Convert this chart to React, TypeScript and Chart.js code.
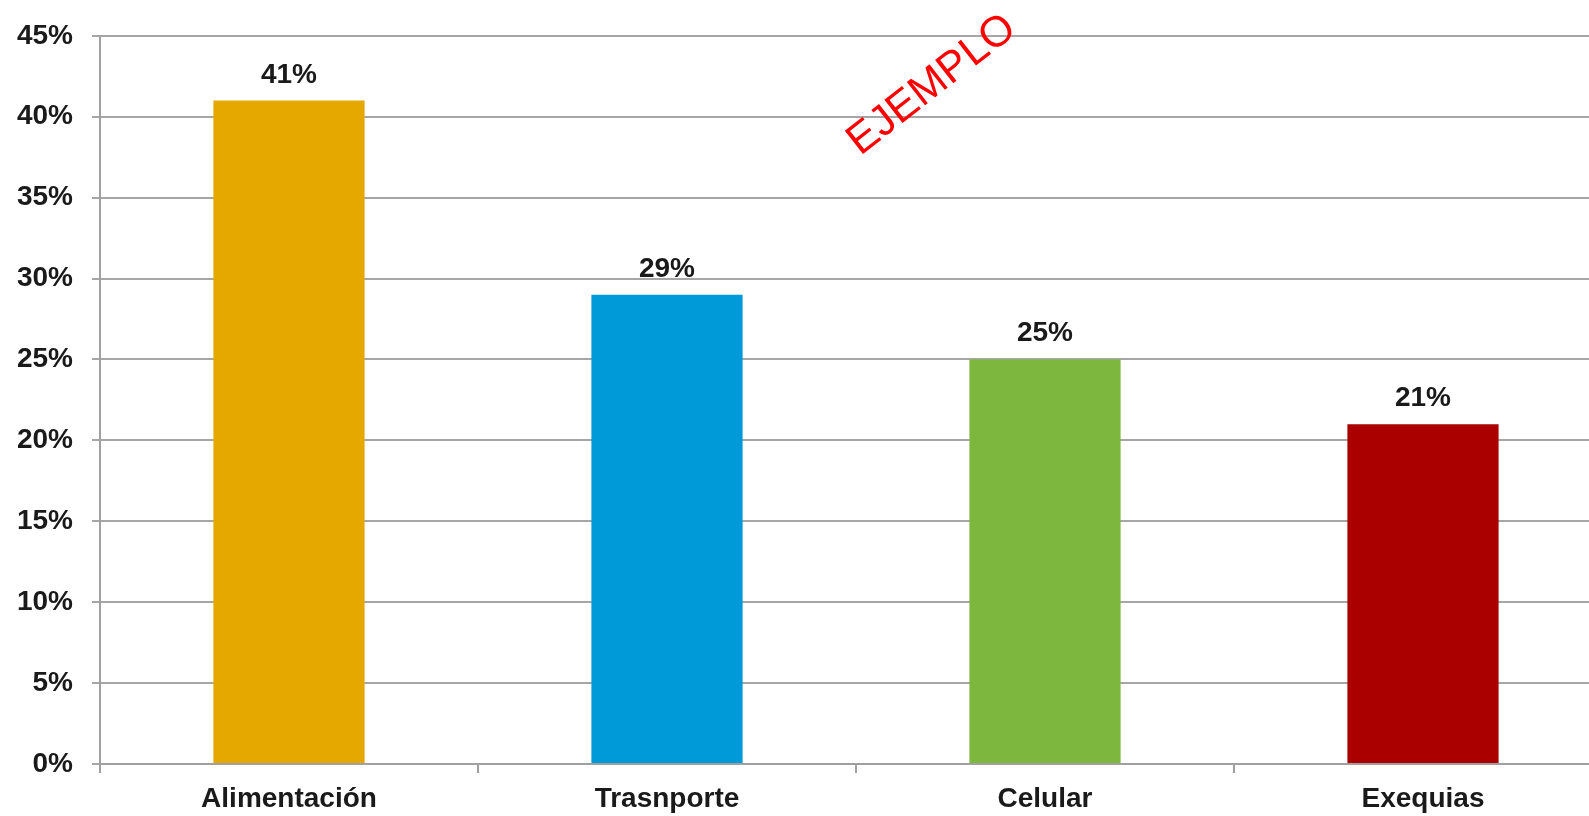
import React, { useEffect, useRef } from "react";
import { Chart, registerables } from "chart.js";

Chart.register(...registerables);

const categories = ["Alimentación", "Trasnporte", "Celular", "Exequias"];
const values = [41, 29, 25, 21];
const barColors = ["#E5A800", "#009AD8", "#7DB73D", "#AA0000"];
const yMax = 45;
const yStep = 5;
const watermark = "EJEMPLO";

const FONT = "'Liberation Sans', Arial, Helvetica, sans-serif";

const valueLabels = {
  id: "valueLabels",
  afterDatasetsDraw(chart: any) {
    const ctx = chart.ctx;
    const meta = chart.getDatasetMeta(0);
    ctx.save();
    ctx.font = `bold 28px ${FONT}`;
    ctx.fillStyle = "#1a1a1a";
    ctx.textAlign = "center";
    ctx.textBaseline = "alphabetic";
    meta.data.forEach((bar: any, i: number) => {
      ctx.fillText(values[i] + "%", bar.x, bar.y - 18);
    });
    ctx.restore();
  },
};

const watermarkPlugin = {
  id: "watermark",
  afterDraw(chart: any) {
    const ctx = chart.ctx;
    ctx.save();
    ctx.translate(932, 85);
    ctx.rotate((-38 * Math.PI) / 180);
    ctx.font = `43px ${FONT}`;
    ctx.fillStyle = "#ff0000";
    ctx.textAlign = "center";
    ctx.textBaseline = "middle";
    ctx.fillText(watermark, 0, 0);
    ctx.restore();
  },
};

export default function App() {
  const ref = useRef<HTMLCanvasElement>(null);
  useEffect(() => {
    if (!ref.current) return;
    const chart = new Chart(ref.current, {
      type: "bar",
      data: {
        labels: categories,
        datasets: [
          {
            data: values,
            backgroundColor: barColors,
            borderWidth: 0,
            barPercentage: 0.4,
            categoryPercentage: 1,
          },
        ],
      },
      options: {
        responsive: false,
        animation: false,
        devicePixelRatio: 1,
        layout: { padding: { top: 34, right: 0, left: 0, bottom: 0 } },
        plugins: {
          legend: { display: false },
          tooltip: { enabled: false },
        },
        scales: {
          x: {
            offset: true,
            grid: {
              display: true,
              drawOnChartArea: false,
              drawTicks: true,
              tickLength: 9,
              color: "#a0a0a0",
              lineWidth: 2,
              offset: true,
            },
            border: { display: true, color: "#a0a0a0", width: 2 },
            ticks: {
              color: "#1a1a1a",
              font: { family: FONT, size: 28, weight: "bold" },
              padding: 9,
              maxRotation: 0,
            },
            afterFit(scale: any) {
              scale.height = 52;
            },
          },
          y: {
            min: 0,
            max: yMax,
            grid: {
              color: "#a6a6a6",
              lineWidth: 2,
              tickLength: 8,
              drawTicks: true,
            },
            border: { display: true, color: "#a0a0a0", width: 2 },
            ticks: {
              stepSize: yStep,
              color: "#1a1a1a",
              font: { family: FONT, size: 28, weight: "bold" },
              padding: 19,
              callback: (v: any) => v + "%",
            },
            afterFit(scale: any) {
              scale.width = 100;
            },
          },
        },
      },
      plugins: [valueLabels, watermarkPlugin],
    });
    return () => chart.destroy();
  }, []);
  return (
    <div
      style={{
        position: "fixed",
        left: 0,
        top: 0,
        width: 1589,
        height: 816,
        overflow: "hidden",
        background: "#fff",
      }}
    >
      <canvas ref={ref} width={1612} height={816} style={{ display: "block" }} />
    </div>
  );
}
